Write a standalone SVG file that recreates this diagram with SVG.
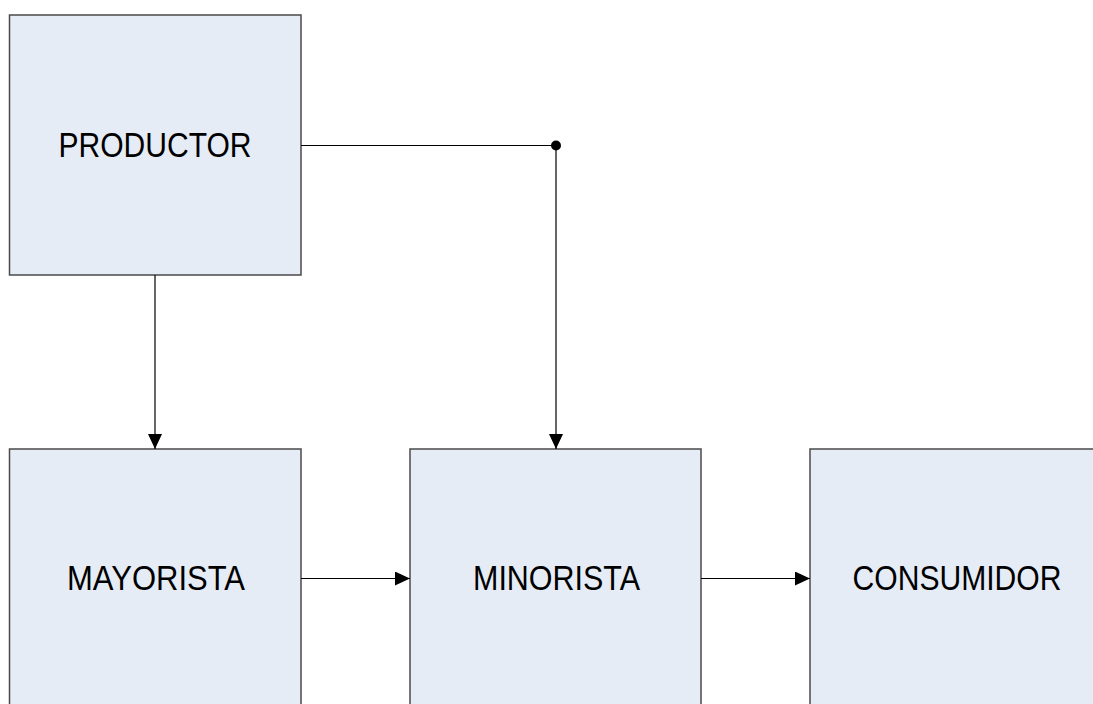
<svg xmlns="http://www.w3.org/2000/svg" width="1093" height="704" viewBox="0 0 1093 704">
<style>
.box{fill:#E6ECF6;stroke:#4a4a4a;stroke-width:1.5}
.lbl{font-family:"Liberation Sans",Arial,sans-serif;font-size:35px;fill:#000;text-anchor:middle}
.con{fill:none;stroke:#000;stroke-width:1.2}
</style>
<defs>
<marker id="arr" markerUnits="userSpaceOnUse" markerWidth="15" markerHeight="14" refX="15" refY="7" orient="auto">
<path d="M0,0 L15,7 L0,14 Z" fill="#000"/>
</marker>
</defs>
<rect width="1093" height="704" fill="#fff"/>
<g id="productor">
<rect class="box" x="9.5" y="15" width="291.5" height="260"/>
<text class="lbl" x="155" y="157" textLength="193" lengthAdjust="spacingAndGlyphs">PRODUCTOR</text>
</g>
<g id="mayorista">
<rect class="box" x="9.5" y="449" width="291.5" height="270"/>
<text class="lbl" x="156" y="590" textLength="178" lengthAdjust="spacingAndGlyphs">MAYORISTA</text>
</g>
<g id="minorista">
<rect class="box" x="410" y="449" width="291" height="270"/>
<text class="lbl" x="556.5" y="590" textLength="167" lengthAdjust="spacingAndGlyphs">MINORISTA</text>
</g>
<g id="consumidor">
<rect class="box" x="810" y="449" width="284" height="270"/>
<text class="lbl" x="957" y="590" textLength="209" lengthAdjust="spacingAndGlyphs">CONSUMIDOR</text>
</g>
<g id="connectors">
<path class="con" d="M155,275 L155,449" marker-end="url(#arr)"/>
<path class="con" d="M301,145.5 L556,145.5 L556,449" marker-end="url(#arr)"/>
<circle cx="556" cy="145.5" r="5" fill="#000"/>
<path class="con" d="M301,578.5 L410,578.5" marker-end="url(#arr)"/>
<path class="con" d="M701,578.5 L810,578.5" marker-end="url(#arr)"/>
</g>
</svg>
